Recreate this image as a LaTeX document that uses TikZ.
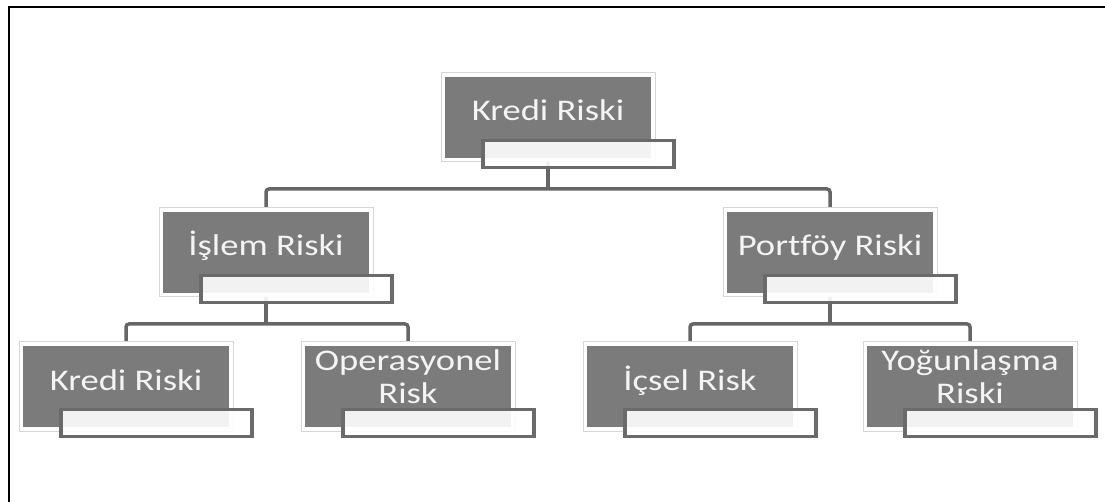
\documentclass[tikz,border=0pt]{standalone}
\usepackage{fontspec}
\setmainfont{Carlito}[FakeStretch=1.22, Ligatures=NoCommon]
\usetikzlibrary{backgrounds}
\definecolor{boxgray}{HTML}{7B7B7B}
\definecolor{frameline}{HTML}{D6D6D6}
\definecolor{smallline}{HTML}{6A6A6A}
\definecolor{connline}{HTML}{666666}
\definecolor{labeltext}{HTML}{F4F4F4}
\tikzset{
  graybox/.style={rectangle, fill=boxgray, minimum width=206pt, minimum height=81pt,
    inner sep=0pt, outer sep=0pt,
    preaction={draw=frameline, line width=9pt},
    preaction={draw=white, line width=7pt}},
  smallbox/.style={rectangle, draw=smallline, line width=3.2pt, fill=white, fill opacity=0.9,
    minimum width=191pt, minimum height=27pt, inner sep=0pt, outer sep=0pt},
  lbl/.style={anchor=base, inner sep=0pt, align=center, text=labeltext,
    font=\fontsize{30}{33}\selectfont},
  conn/.style={draw=connline, line width=3.5pt, rounded corners=3pt},
  frame/.style={draw=black, line width=2pt}
}
\begin{document}
\begin{tikzpicture}[x=1pt, y=-1pt]
\useasboundingbox (0,0) rectangle (1105,502);
\draw[frame] (8.5,502) -- (8.5,7) -- (1105,7);

% gray boxes
\node[graybox] (top)  at (548,117.5) {};
\node[graybox] (isl)  at (266,252.5) {};
\node[graybox] (port) at (830,252.5) {};
\node[graybox] (kr)   at (126,386.5) {};
\node[graybox] (op)   at (408,386.5) {};
\node[graybox] (ic)   at (690,386.5) {};
\node[graybox] (yo)   at (970,386.5) {};

% labels (multi-line labels are anchored at their last baseline)
\node[lbl] (topL)  at (548,121) {Kredi Riski};
\node[lbl] (islL)  at (266,256) {İşlem Riski};
\node[lbl] (portL) at (830,256) {Portföy Riski};
\node[lbl] (krL)   at (126,390) {Kredi Riski};
\node[lbl] (opL)   at (408,403.5) {Operasyonel\\Risk};
\node[lbl] (icL)   at (690,390) {İçsel Risk};
\node[lbl] (yoL)   at (970,403.5) {Yoğunlaşma\\Riski};

% small boxes
\node[smallbox] (topS)  at ([shift={(30.5,36.5)}]top.center) {};
\node[smallbox] (islS)  at ([shift={(30.5,36.5)}]isl.center) {};
\node[smallbox] (portS) at ([shift={(30.5,36.5)}]port.center) {};
\node[smallbox] (krS)   at ([shift={(30.5,36.5)}]kr.center) {};
\node[smallbox] (opS)   at ([shift={(30.5,36.5)}]op.center) {};
\node[smallbox] (icS)   at ([shift={(30.5,36.5)}]ic.center) {};
\node[smallbox] (yoS)   at ([shift={(30.5,36.5)}]yo.center) {};

\coordinate (j1) at (548,189);
\coordinate (j2) at (266,324);
\coordinate (j3) at (830,324);

\begin{scope}[on background layer]
\draw[conn] (top.south) -- (j1);
\draw[conn] (isl.north) |- (j1) -| (port.north);
\draw[conn] (isl.south) -- (j2);
\draw[conn] (kr.north) |- (j2) -| (op.north);
\draw[conn] (port.south) -- (j3);
\draw[conn] (ic.north) |- (j3) -| (yo.north);
\end{scope}
\end{tikzpicture}
\end{document}
